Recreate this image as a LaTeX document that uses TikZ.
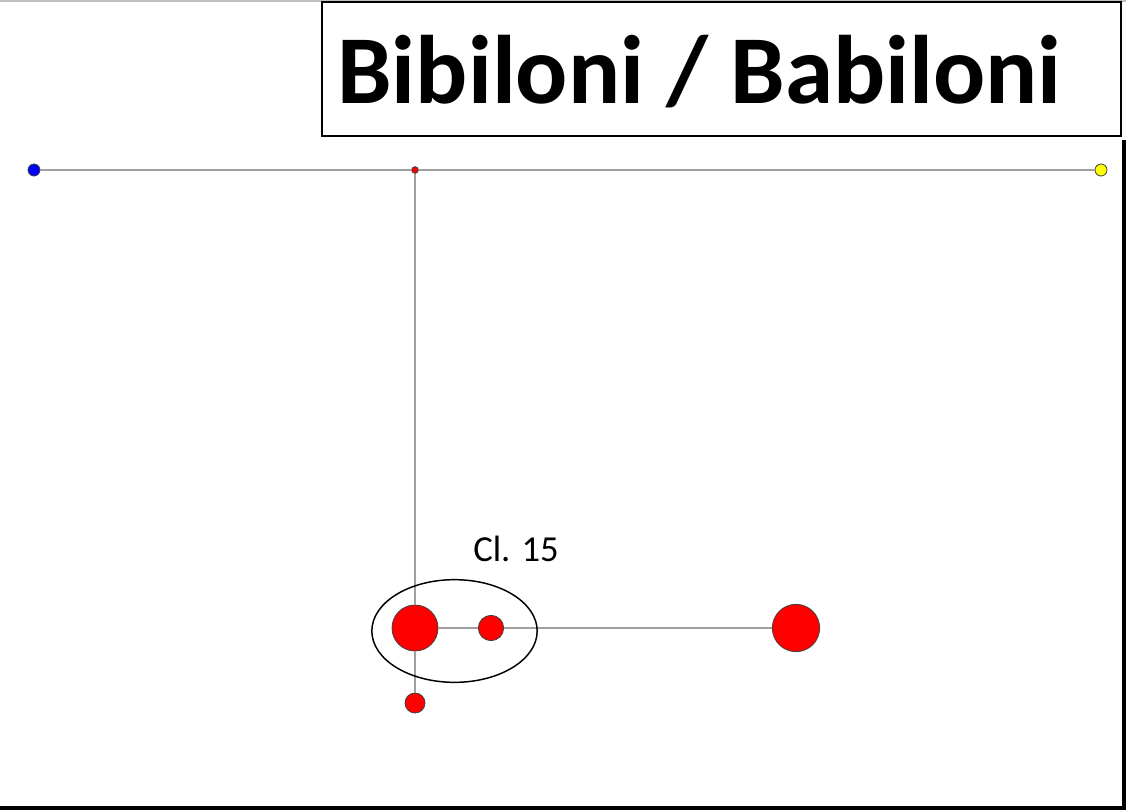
\documentclass[tikz,border=0pt]{standalone}
\usepackage{fontspec}
\setmainfont{Carlito}
\usepackage{xcolor}
\usepackage{tikz}
\usetikzlibrary{shapes.geometric, positioning, calc}
\definecolor{linkgray}{HTML}{A0A0A0}
\definecolor{dotred}{HTML}{FF0000}
\definecolor{dotblue}{HTML}{0000FF}
\definecolor{dotyellow}{HTML}{FFFF00}

\begin{document}
\begin{tikzpicture}[
    x=0.75pt, y=-0.75pt,
    dot/.style={circle, draw=black!75, line width=0.6pt, inner sep=0pt},
    link/.style={draw=linkgray, line width=1.5pt},
    titlebox/.style={draw=black, line width=1.5pt, minimum width=599pt, minimum height=100.5pt, inner sep=0pt},
    titletext/.style={inner sep=0pt, anchor=base west, font=\fontsize{73}{80}\selectfont\bfseries},
    cluster/.style={draw=black, line width=1.1pt, ellipse, minimum width=124pt, minimum height=77pt}
]
    \useasboundingbox (0,0) rectangle (1126,810);
    % Frame
    \draw[black!25, line width=1.2pt] (0,0.8) -- (1126,0.8);
    \draw[black, line width=2.6pt] (0,808) -- (1124,808) -- (1124,140);

    % Title
    \node[titlebox] (title) at (721.5,69) {};
    \node[titletext] (titlelabel) at (337,103) {Bibiloni / Babiloni};

    % Top row
    \node[dot, fill=dotblue, minimum size=9pt] (blue) at (34,170) {};
    \node[dot, fill=dotred, minimum size=5pt] (root) at (415,170) {};
    \node[dot, fill=dotyellow, minimum size=9pt] (yellow) at (1101,170) {};

    % Bottom group
    \node[dot, fill=dotred, minimum size=34.5pt] (big) at (415,628) {};
    \node[dot, fill=dotred, minimum size=19pt] (mid) at (491,628) {};
    \node[dot, fill=dotred, minimum size=35.5pt] (right) at (796,628) {};
    \node[dot, fill=dotred, minimum size=15pt] (low) at (415,703) {};

    % Links
    \draw[link] (blue) -- (root);
    \draw[link] (root) -- (yellow);
    \draw[link] (root) -- (big);
    \draw[link] (big) -- (low);
    \draw[link] (big) -- (mid);
    \draw[link] (mid) -- (right);

    % Cluster
    \node[cluster] (cl) at (454.5,631) {};
    \node[font=\fontsize{27.5}{30}\selectfont] (cllabel) at (516,549) {Cl. 15};
\end{tikzpicture}
\end{document}
